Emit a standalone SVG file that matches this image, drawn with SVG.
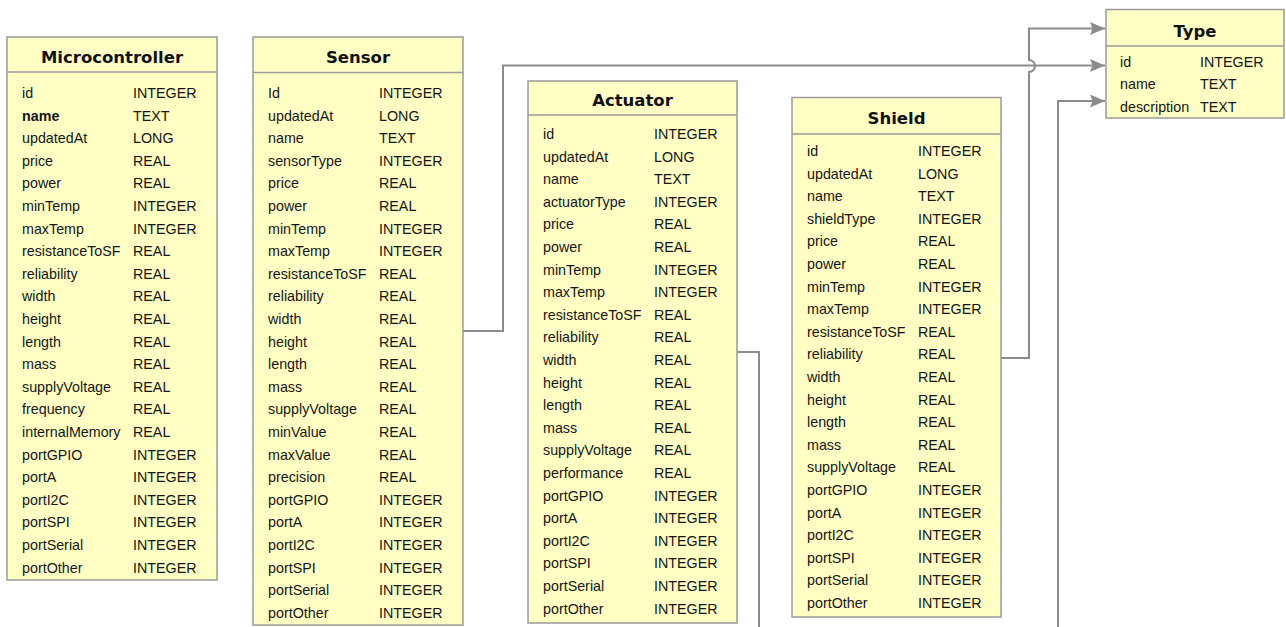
<svg xmlns="http://www.w3.org/2000/svg" width="1286" height="627" viewBox="0 0 1286 627">
  <style>
    .box { fill: #ffffc4; stroke: #9a9a9a; stroke-width: 1.5; }
    .sep { stroke: #9a9a9a; stroke-width: 1.5; }
    .title { font-family: "DejaVu Sans", sans-serif; font-weight: bold; font-size: 16.5px; fill: #111; text-anchor: middle; }
    .col { font-family: "Liberation Sans", Arial, sans-serif; font-size: 14.3px; fill: #151515; }
    .b { font-weight: bold; }
    .link { fill: none; stroke: #8c8c8c; stroke-width: 2; }
  </style>
  <defs>
    <marker id="arrow" markerUnits="userSpaceOnUse" markerWidth="16" markerHeight="14" refX="15" refY="6.5" orient="auto">
      <path d="M0,0 L15,6.5 L0,13 L2.5,6.5 Z" fill="#8c8c8c"/>
    </marker>
  </defs>
  <rect width="1286" height="627" fill="#ffffff"/>

  <!-- foreign-key links into Type -->
  <g id="connectors">
    <path class="link" d="M463,331 H503 V65.5 H1105" marker-end="url(#arrow)"/>
    <path class="link" d="M1001,358 H1029 V72 A6,6 0 0 0 1029,60 V28.5 H1105" marker-end="url(#arrow)"/>
    <path class="link" d="M737,352 H759 V660 H1058 V101 H1105" marker-end="url(#arrow)"/>
  </g>

  <g id="microcontroller">
    <rect class="box" x="7" y="37" width="210" height="543"/>
    <line class="sep" x1="7" y1="72" x2="217" y2="72"/>
    <text class="title" x="112" y="63">Microcontroller</text>
    <text class="col" y="98">
      <tspan x="22">id</tspan><tspan x="22" dy="22.6" class="b">name</tspan><tspan x="22" dy="22.6">updatedAt</tspan><tspan x="22" dy="22.6">price</tspan><tspan x="22" dy="22.6">power</tspan><tspan x="22" dy="22.6">minTemp</tspan><tspan x="22" dy="22.6">maxTemp</tspan><tspan x="22" dy="22.6">resistanceToSF</tspan><tspan x="22" dy="22.6">reliability</tspan><tspan x="22" dy="22.6">width</tspan><tspan x="22" dy="22.6">height</tspan><tspan x="22" dy="22.6">length</tspan><tspan x="22" dy="22.6">mass</tspan><tspan x="22" dy="22.6">supplyVoltage</tspan><tspan x="22" dy="22.6">frequency</tspan><tspan x="22" dy="22.6">internalMemory</tspan><tspan x="22" dy="22.6">portGPIO</tspan><tspan x="22" dy="22.6">portA</tspan><tspan x="22" dy="22.6">portI2C</tspan><tspan x="22" dy="22.6">portSPI</tspan><tspan x="22" dy="22.6">portSerial</tspan><tspan x="22" dy="22.6">portOther</tspan>
    </text>
    <text class="col" y="98">
      <tspan x="133">INTEGER</tspan><tspan x="133" dy="22.6">TEXT</tspan><tspan x="133" dy="22.6">LONG</tspan><tspan x="133" dy="22.6">REAL</tspan><tspan x="133" dy="22.6">REAL</tspan><tspan x="133" dy="22.6">INTEGER</tspan><tspan x="133" dy="22.6">INTEGER</tspan><tspan x="133" dy="22.6">REAL</tspan><tspan x="133" dy="22.6">REAL</tspan><tspan x="133" dy="22.6">REAL</tspan><tspan x="133" dy="22.6">REAL</tspan><tspan x="133" dy="22.6">REAL</tspan><tspan x="133" dy="22.6">REAL</tspan><tspan x="133" dy="22.6">REAL</tspan><tspan x="133" dy="22.6">REAL</tspan><tspan x="133" dy="22.6">REAL</tspan><tspan x="133" dy="22.6">INTEGER</tspan><tspan x="133" dy="22.6">INTEGER</tspan><tspan x="133" dy="22.6">INTEGER</tspan><tspan x="133" dy="22.6">INTEGER</tspan><tspan x="133" dy="22.6">INTEGER</tspan><tspan x="133" dy="22.6">INTEGER</tspan>
    </text>
  </g>

  <g id="sensor">
    <rect class="box" x="253" y="37" width="210" height="588"/>
    <line class="sep" x1="253" y1="72.5" x2="463" y2="72.5"/>
    <text class="title" x="358" y="63">Sensor</text>
    <text class="col" y="98">
      <tspan x="268">Id</tspan><tspan x="268" dy="22.6">updatedAt</tspan><tspan x="268" dy="22.6">name</tspan><tspan x="268" dy="22.6">sensorType</tspan><tspan x="268" dy="22.6">price</tspan><tspan x="268" dy="22.6">power</tspan><tspan x="268" dy="22.6">minTemp</tspan><tspan x="268" dy="22.6">maxTemp</tspan><tspan x="268" dy="22.6">resistanceToSF</tspan><tspan x="268" dy="22.6">reliability</tspan><tspan x="268" dy="22.6">width</tspan><tspan x="268" dy="22.6">height</tspan><tspan x="268" dy="22.6">length</tspan><tspan x="268" dy="22.6">mass</tspan><tspan x="268" dy="22.6">supplyVoltage</tspan><tspan x="268" dy="22.6">minValue</tspan><tspan x="268" dy="22.6">maxValue</tspan><tspan x="268" dy="22.6">precision</tspan><tspan x="268" dy="22.6">portGPIO</tspan><tspan x="268" dy="22.6">portA</tspan><tspan x="268" dy="22.6">portI2C</tspan><tspan x="268" dy="22.6">portSPI</tspan><tspan x="268" dy="22.6">portSerial</tspan><tspan x="268" dy="22.6">portOther</tspan>
    </text>
    <text class="col" y="98">
      <tspan x="379">INTEGER</tspan><tspan x="379" dy="22.6">LONG</tspan><tspan x="379" dy="22.6">TEXT</tspan><tspan x="379" dy="22.6">INTEGER</tspan><tspan x="379" dy="22.6">REAL</tspan><tspan x="379" dy="22.6">REAL</tspan><tspan x="379" dy="22.6">INTEGER</tspan><tspan x="379" dy="22.6">INTEGER</tspan><tspan x="379" dy="22.6">REAL</tspan><tspan x="379" dy="22.6">REAL</tspan><tspan x="379" dy="22.6">REAL</tspan><tspan x="379" dy="22.6">REAL</tspan><tspan x="379" dy="22.6">REAL</tspan><tspan x="379" dy="22.6">REAL</tspan><tspan x="379" dy="22.6">REAL</tspan><tspan x="379" dy="22.6">REAL</tspan><tspan x="379" dy="22.6">REAL</tspan><tspan x="379" dy="22.6">REAL</tspan><tspan x="379" dy="22.6">INTEGER</tspan><tspan x="379" dy="22.6">INTEGER</tspan><tspan x="379" dy="22.6">INTEGER</tspan><tspan x="379" dy="22.6">INTEGER</tspan><tspan x="379" dy="22.6">INTEGER</tspan><tspan x="379" dy="22.6">INTEGER</tspan>
    </text>
  </g>

  <g id="actuator">
    <rect class="box" x="528" y="81" width="209" height="542"/>
    <line class="sep" x1="528" y1="115" x2="737" y2="115"/>
    <text class="title" x="632.5" y="106">Actuator</text>
    <text class="col" y="139">
      <tspan x="543">id</tspan><tspan x="543" dy="22.6">updatedAt</tspan><tspan x="543" dy="22.6">name</tspan><tspan x="543" dy="22.6">actuatorType</tspan><tspan x="543" dy="22.6">price</tspan><tspan x="543" dy="22.6">power</tspan><tspan x="543" dy="22.6">minTemp</tspan><tspan x="543" dy="22.6">maxTemp</tspan><tspan x="543" dy="22.6">resistanceToSF</tspan><tspan x="543" dy="22.6">reliability</tspan><tspan x="543" dy="22.6">width</tspan><tspan x="543" dy="22.6">height</tspan><tspan x="543" dy="22.6">length</tspan><tspan x="543" dy="22.6">mass</tspan><tspan x="543" dy="22.6">supplyVoltage</tspan><tspan x="543" dy="22.6">performance</tspan><tspan x="543" dy="22.6">portGPIO</tspan><tspan x="543" dy="22.6">portA</tspan><tspan x="543" dy="22.6">portI2C</tspan><tspan x="543" dy="22.6">portSPI</tspan><tspan x="543" dy="22.6">portSerial</tspan><tspan x="543" dy="22.6">portOther</tspan>
    </text>
    <text class="col" y="139">
      <tspan x="654">INTEGER</tspan><tspan x="654" dy="22.6">LONG</tspan><tspan x="654" dy="22.6">TEXT</tspan><tspan x="654" dy="22.6">INTEGER</tspan><tspan x="654" dy="22.6">REAL</tspan><tspan x="654" dy="22.6">REAL</tspan><tspan x="654" dy="22.6">INTEGER</tspan><tspan x="654" dy="22.6">INTEGER</tspan><tspan x="654" dy="22.6">REAL</tspan><tspan x="654" dy="22.6">REAL</tspan><tspan x="654" dy="22.6">REAL</tspan><tspan x="654" dy="22.6">REAL</tspan><tspan x="654" dy="22.6">REAL</tspan><tspan x="654" dy="22.6">REAL</tspan><tspan x="654" dy="22.6">REAL</tspan><tspan x="654" dy="22.6">REAL</tspan><tspan x="654" dy="22.6">INTEGER</tspan><tspan x="654" dy="22.6">INTEGER</tspan><tspan x="654" dy="22.6">INTEGER</tspan><tspan x="654" dy="22.6">INTEGER</tspan><tspan x="654" dy="22.6">INTEGER</tspan><tspan x="654" dy="22.6">INTEGER</tspan>
    </text>
  </g>

  <g id="shield">
    <rect class="box" x="792" y="97.5" width="209" height="519.5"/>
    <line class="sep" x1="792" y1="134" x2="1001" y2="134"/>
    <text class="title" x="896.5" y="124">Shield</text>
    <text class="col" y="156">
      <tspan x="807">id</tspan><tspan x="807" dy="22.6">updatedAt</tspan><tspan x="807" dy="22.6">name</tspan><tspan x="807" dy="22.6">shieldType</tspan><tspan x="807" dy="22.6">price</tspan><tspan x="807" dy="22.6">power</tspan><tspan x="807" dy="22.6">minTemp</tspan><tspan x="807" dy="22.6">maxTemp</tspan><tspan x="807" dy="22.6">resistanceToSF</tspan><tspan x="807" dy="22.6">reliability</tspan><tspan x="807" dy="22.6">width</tspan><tspan x="807" dy="22.6">height</tspan><tspan x="807" dy="22.6">length</tspan><tspan x="807" dy="22.6">mass</tspan><tspan x="807" dy="22.6">supplyVoltage</tspan><tspan x="807" dy="22.6">portGPIO</tspan><tspan x="807" dy="22.6">portA</tspan><tspan x="807" dy="22.6">portI2C</tspan><tspan x="807" dy="22.6">portSPI</tspan><tspan x="807" dy="22.6">portSerial</tspan><tspan x="807" dy="22.6">portOther</tspan>
    </text>
    <text class="col" y="156">
      <tspan x="918">INTEGER</tspan><tspan x="918" dy="22.6">LONG</tspan><tspan x="918" dy="22.6">TEXT</tspan><tspan x="918" dy="22.6">INTEGER</tspan><tspan x="918" dy="22.6">REAL</tspan><tspan x="918" dy="22.6">REAL</tspan><tspan x="918" dy="22.6">INTEGER</tspan><tspan x="918" dy="22.6">INTEGER</tspan><tspan x="918" dy="22.6">REAL</tspan><tspan x="918" dy="22.6">REAL</tspan><tspan x="918" dy="22.6">REAL</tspan><tspan x="918" dy="22.6">REAL</tspan><tspan x="918" dy="22.6">REAL</tspan><tspan x="918" dy="22.6">REAL</tspan><tspan x="918" dy="22.6">REAL</tspan><tspan x="918" dy="22.6">INTEGER</tspan><tspan x="918" dy="22.6">INTEGER</tspan><tspan x="918" dy="22.6">INTEGER</tspan><tspan x="918" dy="22.6">INTEGER</tspan><tspan x="918" dy="22.6">INTEGER</tspan><tspan x="918" dy="22.6">INTEGER</tspan>
    </text>
  </g>

  <g id="type">
    <rect class="box" x="1106" y="9.5" width="178" height="108.5"/>
    <line class="sep" x1="1106" y1="46" x2="1284" y2="46"/>
    <text class="title" x="1195" y="36.5">Type</text>
    <text class="col" y="66.5">
      <tspan x="1120">id</tspan><tspan x="1120" dy="22.6">name</tspan><tspan x="1120" dy="22.6">description</tspan>
    </text>
    <text class="col" y="66.5">
      <tspan x="1200">INTEGER</tspan><tspan x="1200" dy="22.6">TEXT</tspan><tspan x="1200" dy="22.6">TEXT</tspan>
    </text>
  </g>
</svg>
